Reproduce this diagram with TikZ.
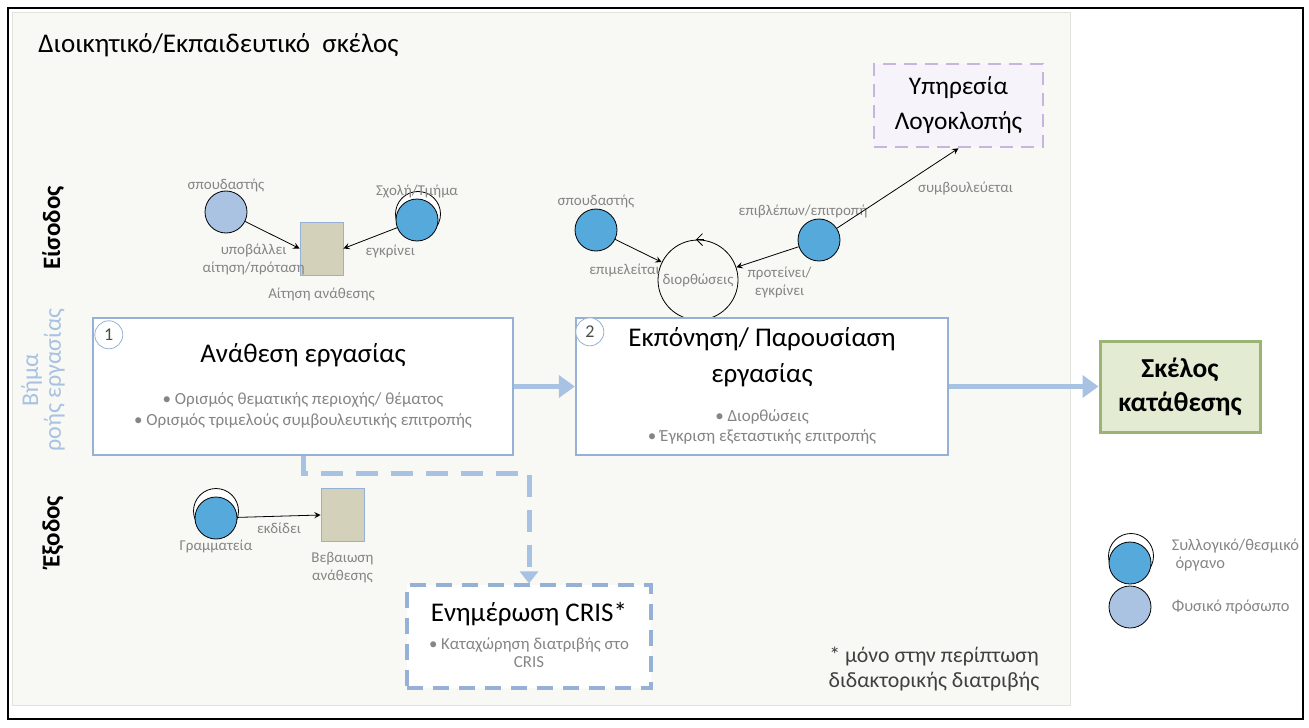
\documentclass[tikz,border=0pt]{standalone}
\usepackage{fontspec}
\setmainfont{Carlito}
\usepackage{xcolor}
\usetikzlibrary{shapes.geometric, arrows, arrows.meta, positioning}
\definecolor{paper}{HTML}{F8F8F4}
\definecolor{paperline}{HTML}{E2E2DA}
\definecolor{stepline}{HTML}{95B1D6}
\definecolor{flow}{HTML}{A8C2E3}
\definecolor{organfill}{HTML}{55A9DB}
\definecolor{personfill}{HTML}{AAC3E2}
\definecolor{docbrown}{HTML}{D3D1BA}
\definecolor{depfill}{HTML}{E3EBD3}
\definecolor{depline}{HTML}{9BB375}
\definecolor{lilac}{HTML}{C7B5DD}
\definecolor{lilacfill}{HTML}{F6F4FA}
\definecolor{faded}{HTML}{858585}
\tikzstyle{arrow} = [thin,->,>=stealth]
\tikzstyle{flowarrow} = [draw=flow, line width=2.5pt, -{Triangle[length=8pt,width=11pt]}]
\tikzstyle{stepnode} = [rectangle, draw=stepline, line width=1.2pt, fill=white, minimum height=68.5pt]
\tikzstyle{steptitle} = [font=\fontsize{13.5}{18}\selectfont, align=center, inner sep=0pt]
\tikzstyle{bullets} = [font=\fontsize{8.5}{10.5}\selectfont, text=faded, align=center, inner sep=0pt]
\tikzstyle{stepnum} = [circle, draw=stepline, thin, fill=white, minimum size=14pt, inner sep=0pt, font=\fontsize{9}{9}\selectfont, text=black!70]
\tikzstyle{actor} = [circle, draw=black, thin, minimum size=21pt, inner sep=0pt]
\tikzstyle{person} = [actor, fill=personfill]
\tikzstyle{organ} = [actor, fill=organfill]
\tikzstyle{ring} = [circle, draw=black, thin, fill=white, minimum size=22.5pt, inner sep=0pt]
\tikzstyle{docnode} = [rectangle, draw=stepline, fill=docbrown, minimum width=21.5pt, minimum height=26.5pt]
\tikzstyle{elabel} = [font=\fontsize{7.5}{9}\selectfont, text=faded, align=center, inner sep=1pt]
\tikzstyle{optional} = [dash pattern=on 6.5pt off 4pt]
\tikzstyle{sidelabel} = [rotate=90, font=\bfseries\fontsize{12.5}{14}\selectfont]

\begin{document}
\begin{tikzpicture}[x=0.5pt, y=-0.5pt]
  \useasboundingbox (0,0) rectangle (1309,727);
  \draw[line width=1pt] (8,8) rectangle (1303,719);
  \draw[draw=paperline, fill=paper] (12,12) rectangle (1070,705);

  \node[anchor=west, inner sep=0pt, font=\fontsize{13.5}{15}\selectfont] (head) at (38,45) {Διοικητικό/Εκπαιδευτικό\ \ σκέλος};
  \node[sidelabel] (inlbl) at (53,228) {Είσοδος};
  \node[sidelabel, font=\fontsize{12}{10}\selectfont, text=flow, align=center] (steplbl) at (43,380) {Βήμα\\ροής εργασίας};
  \node[sidelabel] (outlbl) at (53,532) {Έξοδος};

  \node[person, label={[elabel, label distance=-2pt]above:σπουδαστής}] (stud) at (226,212) {};
  \node[ring] (schoolr) at (418,214) {};
  \node[organ, label={[elabel, label distance=-1pt]above:Σχολή/Τμήμα}] (school) at (417,220) {};
  \node[docnode, label={[elabel, label distance=5pt]below:Αίτηση ανάθεσης}] (request) at (321.5,248.5) {};
  \draw[arrow] (stud) -- (request.west) node[elabel, pos=.45, below=4pt, xshift=-8pt] {υποβάλλει\\αίτηση/πρόταση};
  \draw[arrow] (school) -- (request.east) node[elabel, pos=.35, below=4pt, xshift=6pt] {εγκρίνει};

  \node[circle, draw=black, thin, minimum size=40pt, inner sep=0pt, font=\fontsize{7.5}{9}\selectfont, text=faded] (fix) at (698,280) {διορθώσεις};
  \draw[-{Straight Barb[length=3pt,width=6pt]}] ([xshift=3pt]fix.north) -- ([xshift=-1pt]fix.north);
  \node[organ, label={[elabel, label distance=-1pt]above:σπουδαστής}] (stud2) at (596,230) {};
  \node[organ, label={[elabel, label distance=-1pt, xshift=-8pt]above:επιβλέπων/επιτροπή}] (super) at (819,240) {};
  \node[rectangle, optional, draw=lilac, line width=1.3pt, fill=lilacfill, minimum width=84.5pt, minimum height=41.5pt, align=center, font=\fontsize{12.7}{17.5}\selectfont] (plag) at (958.5,105.5) {Υπηρεσία\\Λογοκλοπής};
  \draw[arrow] (stud2) -- (fix) node[elabel, pos=.2, below=9pt] {επιμελείται};
  \draw[arrow] (super) -- (fix) node[elabel, pos=.5, below=4pt, xshift=6pt] {προτείνει/\\εγκρίνει};
  \draw[arrow] (super) -- (plag.south) node[elabel, pos=.5, right=9pt] {συμβουλεύεται};

  \node[stepnode, minimum width=210pt] (assign) at (303,386.5) {};
  \node[stepnum] (n1) at ([xshift=8.5pt,yshift=-9pt]assign.north west) {1};
  \node[steptitle] (assignt) at ([yshift=-19pt]assign.north) {Ανάθεση εργασίας};
  \node[bullets] (assignb) at ([yshift=-47pt]assign.north) {\textbullet\ Ορισμός θεματικής περιοχής/ θέματος\\\textbullet\ Ορισμός τριμελούς συμβουλευτικής επιτροπής};

  \node[stepnode, minimum width=186pt] (draft) at (762,386.5) {};
  \node[stepnum] (n2) at ([xshift=7.5pt,yshift=-7.5pt]draft.north west) {2};
  \node[steptitle] (draftt) at ([yshift=-20pt]draft.north) {Εκπόνηση/ Παρουσίαση\\εργασίας};
  \node[bullets, font=\fontsize{8.5}{10}\selectfont] (draftb) at ([yshift=-55pt]draft.north) {\textbullet\ Διορθώσεις\\\textbullet\ Έγκριση εξεταστικής επιτροπής};

  \node[rectangle, draw=depline, line width=1.5pt, fill=depfill, minimum width=80pt, minimum height=45.5pt, align=center, font=\bfseries\fontsize{13.7}{17}\selectfont] (deposit) at (1180,386.5) {Σκέλος\\κατάθεσης};
  \draw[flowarrow] (assign) -- (draft);
  \draw[flowarrow] (draft) -- (deposit);

  \node[rectangle, dash pattern=on 8pt off 5pt, draw=stepline, line width=1.6pt, fill=white, minimum width=122pt, minimum height=51.5pt] (cris) at (529,636.5) {};
  \node[steptitle] (crist) at ([yshift=-15.5pt]cris.north) {Ενημέρωση CRIS*};
  \node[bullets, font=\fontsize{8.4}{9}\selectfont] (crisb) at ([yshift=-34.5pt]cris.north) {\textbullet\ Καταχώρηση διατριβής στο\\CRIS};
  \draw[draw=flow, line width=2.5pt, dash pattern=on 11pt off 6.5pt, -{Triangle[length=6pt,width=9pt]}] (assign.south) -- ++(0,17) -| (cris.north);

  \node[ring] (secr) at (216,511) {};
  \node[organ, label={[elabel, label distance=-1pt]below:Γραμματεία}] (sec) at (216,518) {};
  \node[docnode, label={[elabel, label distance=4pt]below:Βεβαιωση\\ανάθεσης}] (cert) at (342.5,515) {};
  \draw[arrow] (sec) -- (cert.west) node[elabel, midway, below=2pt] {εκδίδει};

  \node[font=\fontsize{10.9}{12.5}\selectfont, align=center, text=black!75] (note) at (934,669.5) {* μόνο στην περίπτωση\\διδακτορικής διατριβής};

  \node[ring] (keyorganr) at (1131,556) {};
  \node[organ] (keyorgan) at (1130,563) {};
  \node[person] (keyperson) at (1130,607) {};
  \node[elabel, font=\fontsize{8.2}{9}\selectfont, align=left, right=9pt of keyorgan, yshift=4pt] (keyorganl) {Συλλογικό/θεσμικό\\\ όργανο};
  \node[elabel, font=\fontsize{8.2}{9}\selectfont, right=9pt of keyperson] (keypersonl) {Φυσικό πρόσωπο};
\end{tikzpicture}
\end{document}
